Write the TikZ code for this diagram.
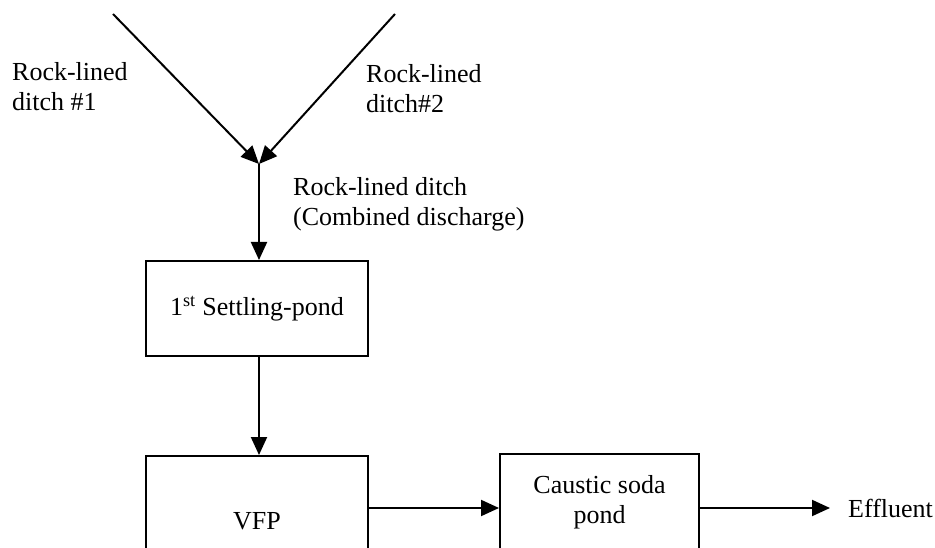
\documentclass[tikz,border=0pt]{standalone}
\usepackage{fontspec}
\setmainfont{Liberation Serif}
\usetikzlibrary{arrows.meta}
\begin{document}
\begin{tikzpicture}[x=1pt,y=-1pt,
  every node/.style={font=\fontsize{26}{30}\selectfont},
  flow/.style={line width=2pt,-{Triangle[length=18pt,width=16pt]}},
  box/.style={draw,line width=2pt,minimum width=222pt,inner sep=0pt},
  lbl/.style={align=left,inner sep=0pt,anchor=base west}]
\useasboundingbox (0,0) rectangle (935,548);
\clip (0,0) rectangle (935,548);
\coordinate (s1) at (113,14);
\coordinate (s2) at (395,14);
\coordinate (j) at (259,164);
\node[box,minimum height=95pt] (sp) at (257,308.5) {1\textsuperscript{st} Settling-pond};
\node[box,minimum height=130pt] (vfp) at (257,521) {VFP};
\node[box,minimum width=199pt,minimum height=96pt,align=center] (cs) at (599.5,502) {Caustic soda\\pond};
\node[inner sep=0pt,anchor=base west] (ef) at (848,517) {Effluent};
\node[lbl] (l1) at (12,111) {Rock-lined\\ditch \#1};
\node[lbl] (l2) at (366,113) {Rock-lined\\ditch\#2};
\node[lbl] (l3) at (293,226) {Rock-lined ditch\\(Combined discharge)};
\coordinate (a) at ([yshift=13pt]vfp.east);
\draw[flow] (s1) -- (j);
\draw[flow] (s2) -- (j);
\draw[flow] (j) -- (j |- sp.north);
\draw[flow] (j |- sp.south) -- (j |- vfp.north);
\draw[flow] (a) -- (cs.west |- a);
\draw[flow] (cs.east |- a) -- ([xshift=-18pt]ef.west |- a);
\end{tikzpicture}
\end{document}
